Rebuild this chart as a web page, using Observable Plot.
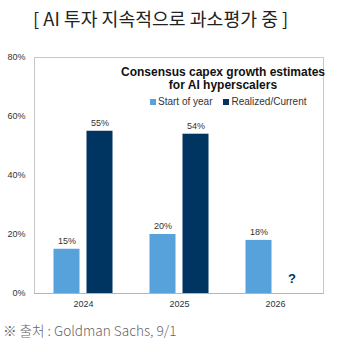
<!DOCTYPE html>
<html>
<head>
<meta charset="utf-8">
<script src="https://cdn.jsdelivr.net/npm/d3@7"></script>
<script src="https://cdn.jsdelivr.net/npm/@observablehq/plot@0.6"></script>
<style>
  html, body { margin: 0; padding: 0; background: #fff; }
  #wrap { position: relative; width: 349px; height: 341px; }
  #chart svg { display: block; }
  #title { height: 36px; line-height: 36px; padding-left: 33px; font-family: "Noto Sans CJK KR", sans-serif; font-size: 18.3px; color: #222; white-space: nowrap; }
  #caption { padding-top: 7px; padding-left: 3px; line-height: 14px; font-family: "Noto Sans CJK KR", sans-serif; font-size: 13.6px; font-weight: 300; color: #666; white-space: nowrap; }
  #legend { position: absolute; left: 150px; top: 96px; }
  #legend .lg-swatches { font-family: "Liberation Sans", Arial, sans-serif; font-size: 10px; color: #333; margin: 0; min-height: 0; }
  #legend .lg-swatch { margin-right: 11px; }
  #legend .lg-swatch > svg { margin-right: 2px; }
</style>
</head>
<body>
<div id="wrap">
  <div id="title">[ AI 투자 지속적으로 과소평가 중 ]</div>
  <div id="chart"></div>
  <div id="legend"></div>
  <div id="caption">※ 출처 : Goldman Sachs, 9/1</div>
</div>
<script>
const years = ["2024", "2025", "2026"];
const seriesNames = ["Start of year", "Realized/Current"];
const seriesColors = ["#58a2dc", "#003562"];
const startOfYear = [15, 20, 18];
const realized = [55, 54, null];
const pendingLabel = ["", "", "?"];
const yTicks = [0, 20, 40, 60, 80];
const chartTitle = "Consensus capex growth estimates\nfor AI hyperscalers";

const startData = years.map((y, i) => ({year: y, value: startOfYear[i]}));
const realData = years.map((y, i) => ({year: y, value: realized[i]})).filter(d => d.value != null);
const pendingData = years.map((y, i) => ({year: y, label: pendingLabel[i]})).filter(d => d.label);

const OFF = 16.5;
const plot = Plot.plot({
  width: 349,
  height: 280,
  marginTop: 21,
  marginBottom: 23,
  marginLeft: 34,
  marginRight: 26,
  style: { fontFamily: "'Liberation Sans', Arial, sans-serif", fontSize: "9px", color: "#333", background: "#fff" },
  x: { domain: years, paddingInner: 0.73, paddingOuter: 0.365, label: null },
  y: { domain: [0, 80], label: null },
  marks: [
    Plot.frame({ stroke: "#c8c8c8" }),
    Plot.axisY({ ticks: yTicks, tickSize: 0, tickPadding: 9, tickFormat: d => d + "%", label: null }),
    Plot.axisX({ tickSize: 0, tickPadding: 7, label: null }),
    Plot.barY(startData, { x: "year", y: "value", dx: -OFF, fill: seriesColors[0] }),
    Plot.barY(realData, { x: "year", y: "value", dx: OFF, fill: seriesColors[1] }),
    Plot.ruleY([0], { stroke: "#b4b4b4" }),
    Plot.text(startData, { x: "year", y: "value", dx: -OFF, dy: -8, text: d => d.value + "%", fill: "#333" }),
    Plot.text(realData, { x: "year", y: "value", dx: OFF, dy: -8, text: d => d.value + "%", fill: "#333" }),
    Plot.text(pendingData, { x: "year", y: () => 0, dx: OFF, dy: -15, text: "label", fill: seriesColors[1], fontWeight: "bold", fontSize: 13 }),
    Plot.text([chartTitle], { frameAnchor: "top", dx: 44, dy: 9, lineAnchor: "top", lineHeight: 1.08, fontSize: 12, fontWeight: "bold", fill: "#111", text: d => d })
  ]
});
document.getElementById("chart").appendChild(plot);

const legend = Plot.legend({
  color: { type: "ordinal", domain: seriesNames, range: seriesColors },
  swatchSize: 6,
  className: "lg"
});
document.getElementById("legend").appendChild(legend);
</script>
</body>
</html>
